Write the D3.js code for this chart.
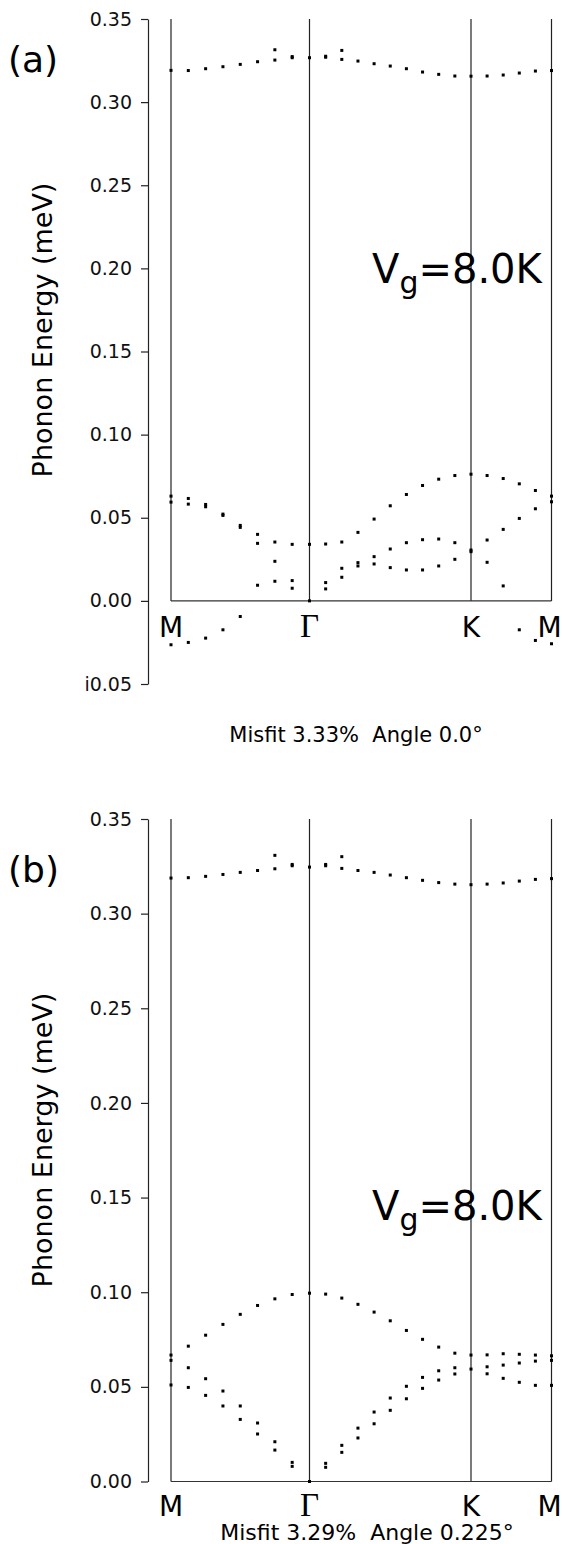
<!DOCTYPE html>
<html>
<head>
<meta charset="utf-8">
<script src="https://cdn.jsdelivr.net/npm/d3@7"></script>
<style>
  body { margin: 0; background: #fff; }
  svg { display: block; font-family: "DejaVu Sans", sans-serif; }
</style>
</head>
<body>
<div id="chart"></div>
<script>
var width = 562;
var height = 1544;

// k-path: M (0) -> Gamma (8) -> K (18) -> M (23), one column per k point
var kLabels = ['M', '\u0393', 'K', 'M'];
var kStops = [0, 8, 18, 23];

// y tick labels (the scan prints the minus as "i")
var ticksA = [-0.05, 0, 0.05, 0.10, 0.15, 0.20, 0.25, 0.30, 0.35];
var tickTextA = ['i0.05', '0.00', '0.05', '0.10', '0.15', '0.20', '0.25', '0.30', '0.35'];
var ticksB = [0, 0.05, 0.10, 0.15, 0.20, 0.25, 0.30, 0.35];
var tickTextB = ['0.00', '0.05', '0.10', '0.15', '0.20', '0.25', '0.30', '0.35'];

// ---- panel (a): misfit 3.33%, angle 0.0 ----
var topA = [0.3191, 0.3190, 0.3201, 0.3213, 0.3227, 0.3243, 0.3253, 0.3267, 0.3267, 0.3270, 0.3257, 0.3247,
            0.3231, 0.3217, 0.3201, 0.3181, 0.3167, 0.3157, 0.3156, 0.3157, 0.3163, 0.3175, 0.3187, 0.3190];
var topSplitA = [null, null, null, null, null, null, 0.3315, 0.3274, null, 0.3276, 0.3311, null,
                 null, null, null, null, null, null, null, null, null, null, null, null];
var acoustic1A = [0.0630, 0.0616, 0.0580, 0.0522, 0.0454, 0.0400, 0.0354, 0.0340, 0.0340, 0.0342, 0.0354, 0.0412,
                  0.0492, 0.0572, 0.0640, 0.0694, 0.0732, 0.0754, 0.0762, 0.0754, 0.0736, 0.0704, 0.0664, 0.0630];
var acoustic2A = [0.0594, 0.0582, 0.0566, 0.0514, 0.0442, 0.0346, 0.0238, 0.0122, 0.0000, 0.0110, 0.0196, 0.0230,
                  0.0266, 0.0312, 0.0350, 0.0368, 0.0372, 0.0350, 0.0306, 0.0366, 0.0430, 0.0496, 0.0554, 0.0596];
var acoustic3A = [null, null, null, null, null, 0.0094, 0.0118, 0.0076, null, 0.0072, 0.0142, 0.0210,
                  0.0222, 0.0200, 0.0186, 0.0186, 0.0210, 0.0250, 0.0296, 0.0232, 0.0090, null, null, null];
var imaginaryA = [-0.0264, -0.0250, -0.0224, -0.0174, -0.0094, null, null, null, null, null, null, null,
                  null, null, null, null, null, null, null, null, null, -0.0174, -0.0238, -0.0258];

// ---- panel (b): misfit 3.29%, angle 0.225 ----
var topB = [0.3188, 0.3190, 0.3197, 0.3207, 0.3218, 0.3228, 0.3237, 0.3253, 0.3246, 0.3253, 0.3239, 0.3228,
            0.3218, 0.3204, 0.3190, 0.3176, 0.3164, 0.3156, 0.3153, 0.3156, 0.3162, 0.3172, 0.3181, 0.3185];
var topSplitB = [null, null, null, null, null, null, 0.3308, 0.3260, null, 0.3260, 0.3301, null,
                 null, null, null, null, null, null, null, null, null, null, null, null];
var acoustic1B = [0.0668, 0.0715, 0.0773, 0.0830, 0.0883, 0.0930, 0.0965, 0.0988, 0.0995, 0.0990, 0.0969, 0.0936,
                  0.0895, 0.0849, 0.0798, 0.0751, 0.0710, 0.0678, 0.0668, 0.0669, 0.0675, 0.0672, 0.0668, 0.0664];
var acoustic2B = [0.0640, 0.0601, 0.0543, 0.0478, 0.0399, 0.0309, 0.0210, 0.0101, 0.0000, 0.0096, 0.0191, 0.0282,
                  0.0367, 0.0441, 0.0503, 0.0550, 0.0585, 0.0601, 0.0594, 0.0606, 0.0615, 0.0626, 0.0636, 0.0640];
var acoustic3B = [0.0510, 0.0497, 0.0455, 0.0399, 0.0328, 0.0251, 0.0166, 0.0080, null, 0.0075, 0.0154, 0.0230,
                  0.0305, 0.0376, 0.0437, 0.0492, 0.0536, 0.0568, null, 0.0569, 0.0545, 0.0524, 0.0508, 0.0508];

var panels = [
    {
        name: '(a)', nameY: 72,
        yDomain: [-0.05, 0.35], yRange: [684, 19],
        ticks: ticksA, tickText: tickTextA,
        series: [topA, topSplitA, acoustic1A, acoustic2A, acoustic3A, imaginaryA],
        gapY: 283, labelY: 637, labelMid: 330,
        caption: 'Misfit 3.33%  Angle 0.0\u00b0', captionX: 356, captionY: 742, captionSize: 21
    },
    {
        name: '(b)', nameY: 882,
        yDomain: [0, 0.35], yRange: [1481.5, 819],
        ticks: ticksB, tickText: tickTextB,
        series: [topB, topSplitB, acoustic1B, acoustic2B, acoustic3B],
        gapY: 1220, labelY: 1516, labelMid: 1140,
        caption: 'Misfit 3.29%  Angle 0.225\u00b0', captionX: 367, captionY: 1540, captionSize: 22
    }
];

var axisX = 148;

var xScale = d3.scaleLinear()
    .domain(kStops)
    .range([171, 309.5, 471, 551.5]);

var svg = d3.select('#chart').append('svg')
    .attr('width', width)
    .attr('height', height);

panels.forEach(function (p) {
    var yScale = d3.scaleLinear()
        .domain(p.yDomain)
        .range(p.yRange);

    var g = svg.append('g');

    // y axis
    var yAxis = d3.axisLeft(yScale)
        .tickValues(p.ticks)
        .tickFormat((d, i) => p.tickText[i])
        .tickSize(7)
        .tickSizeOuter(0)
        .tickPadding(9);

    var yAxis_g = g.append('g')
        .attr('transform', `translate(${axisX}, 0)`)
        .call(yAxis);

    yAxis_g.selectAll('text')
        .style('font-size', '19px')
        .style('font-family', '"DejaVu Sans", sans-serif')
        .attr('fill', '#111');
    yAxis_g.selectAll('line, path')
        .attr('stroke', '#222')
        .attr('stroke-width', 1.2);

    // high-symmetry lines
    g.selectAll('.kline')
        .data(kStops)
        .enter()
        .append('line')
        .attr('x1', d => xScale(d))
        .attr('x2', d => xScale(d))
        .attr('y1', yScale(0.35))
        .attr('y2', yScale(0))
        .attr('stroke', '#222')
        .attr('stroke-width', 1.2);

    // zero line
    g.append('line')
        .attr('x1', xScale(0))
        .attr('x2', xScale(23))
        .attr('y1', yScale(0))
        .attr('y2', yScale(0))
        .attr('stroke', '#333')
        .attr('stroke-width', 1.2);

    // dispersion points
    p.series.forEach(function (s) {
        var pts = s.map((v, k) => ({ k: k, v: v })).filter(d => d.v !== null);
        g.selectAll(null)
            .data(pts)
            .enter()
            .append('rect')
            .attr('x', d => xScale(d.k) - 1.5)
            .attr('y', d => yScale(d.v) - 1.5)
            .attr('width', 3)
            .attr('height', 3)
            .attr('fill', '#000');
    });

    // k labels
    g.selectAll('.klabel')
        .data(kStops)
        .enter()
        .append('text')
        .attr('x', (d, i) => xScale(d) - (i === 3 ? 2 : 0))
        .attr('y', p.labelY)
        .attr('text-anchor', 'middle')
        .style('font-size', (d, i) => i === 1 ? '33px' : '28px')
        .style('font-family', (d, i) => i === 1 ? '"Liberation Serif", serif' : '"DejaVu Sans", sans-serif')
        .text((d, i) => kLabels[i]);

    // y label
    g.append('text')
        .attr('transform', `translate(52, ${p.labelMid}) rotate(-90)`)
        .attr('text-anchor', 'middle')
        .style('font-size', '27px')
        .text('Phonon Energy (meV)');

    // panel name
    g.append('text')
        .attr('x', 8)
        .attr('y', p.nameY)
        .style('font-size', '36px')
        .text(p.name);

    // V_g annotation
    var vg = g.append('text')
        .attr('x', 372)
        .attr('y', p.gapY)
        .style('font-size', '40px');
    vg.append('tspan').text('V');
    vg.append('tspan').attr('dy', 10).style('font-size', '30px').text('g');
    vg.append('tspan').attr('dy', -10).text('=8.0K');

    // caption
    g.append('text')
        .attr('x', p.captionX)
        .attr('y', p.captionY)
        .attr('text-anchor', 'middle')
        .style('white-space', 'pre')
        .style('font-size', p.captionSize + 'px')
        .text(p.caption);
});
</script>
</body>
</html>
